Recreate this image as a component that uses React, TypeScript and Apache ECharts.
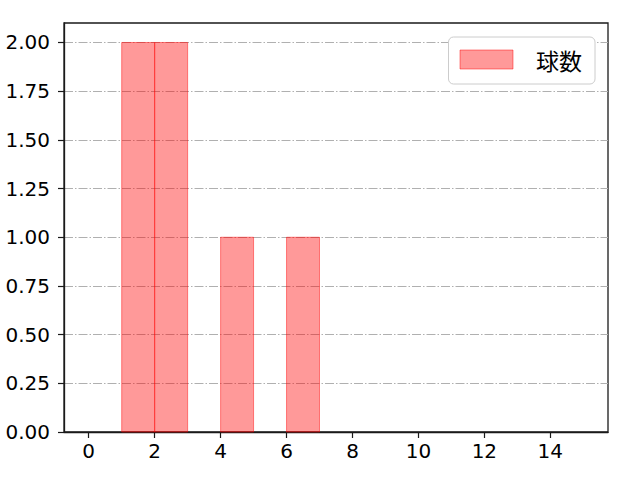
import React, { useEffect, useRef } from 'react';
import * as echarts from 'echarts';

// histogram bins: left edge, right edge, count
const binStarts = [1, 2, 4, 6];
const binEnds = [2, 3, 5, 7];
const counts = [2, 2, 1, 1];
const xTicks = [0, 2, 4, 6, 8, 10, 12, 14];
const yTicks = [0, 0.25, 0.5, 0.75, 1, 1.25, 1.5, 1.75, 2];
const seriesName = '球数';

const CJK = '"Noto Sans CJK JP", "Noto Sans", sans-serif';
const NUM = '"DejaVu Sans", sans-serif';
const FILL = 'rgba(255,0,0,0.4)';
const EDGE = 'rgba(255,0,0,0.45)';
const INK = '#1a1a1a';

const App = () => {
  const chartRef = useRef(null);

  useEffect(() => {
    document.body.style.margin = '0';
    const myChart = echarts.init(chartRef.current, null, { renderer: 'svg' });
    const data = binStarts.map((s, i) => [s, binEnds[i], counts[i]]);

    const option = {
      animation: false,
      textStyle: { fontFamily: CJK },
      grid: {
        left: 64, right: 32, top: 23, bottom: 48,
        show: true, borderColor: INK, borderWidth: 1.3
      },
      legend: {
        right: 45, top: 37,
        icon: 'rect',
        itemWidth: 53, itemHeight: 19,
        padding: [11, 13, 13, 11],
        borderColor: '#cccccc', borderWidth: 1, borderRadius: 5,
        backgroundColor: '#fff',
        textStyle: { fontSize: 23, color: '#000', fontFamily: CJK, padding: [0, 0, 0, 18] },
        data: [{ name: seriesName, itemStyle: { color: FILL, borderColor: EDGE, borderWidth: 1 } }]
      },
      xAxis: {
        type: 'value',
        min: -0.75, max: 15.75,
        axisLine: { show: true, onZero: false, lineStyle: { color: INK, width: 1.3 } },
        axisTick: { show: true, length: 6, customValues: xTicks, lineStyle: { color: INK, width: 1.2 } },
        axisLabel: { customValues: xTicks, fontSize: 20, color: '#000', margin: 9, fontFamily: NUM },
        splitLine: { show: false }
      },
      yAxis: {
        type: 'value',
        min: 0, max: 2.1,
        axisLine: { show: true, onZero: false, lineStyle: { color: INK, width: 1.3 } },
        axisTick: { show: true, length: 6, customValues: yTicks, lineStyle: { color: INK, width: 1.2 } },
        axisLabel: {
          customValues: yTicks, fontSize: 20, color: '#000', margin: 14, fontFamily: NUM,
          formatter: (v: number) => v.toFixed(2)
        },
        splitLine: {
          show: true,
          lineStyle: { color: '#b0b0b0', width: 1, type: [9, 2, 1.5, 2] }
        }
      },
      series: [
        {
          name: seriesName,
          type: 'custom',
          itemStyle: { color: FILL },
          data,
          encode: { x: [0, 1], y: 2 },
          renderItem: (params: any, api: any) => {
            const p0 = api.coord([api.value(0), api.value(2)]);
            const p1 = api.coord([api.value(1), 0]);
            return {
              type: 'rect',
              shape: { x: p0[0], y: p0[1], width: p1[0] - p0[0], height: p1[1] - p0[1] },
              style: { fill: FILL, stroke: EDGE, lineWidth: 1 }
            };
          }
        }
      ]
    };

    myChart.setOption(option);
    return () => {
      myChart.dispose();
    };
  }, []);

  return <div ref={chartRef} style={{ width: '640px', height: '480px' }}></div>;
};

export default App;
